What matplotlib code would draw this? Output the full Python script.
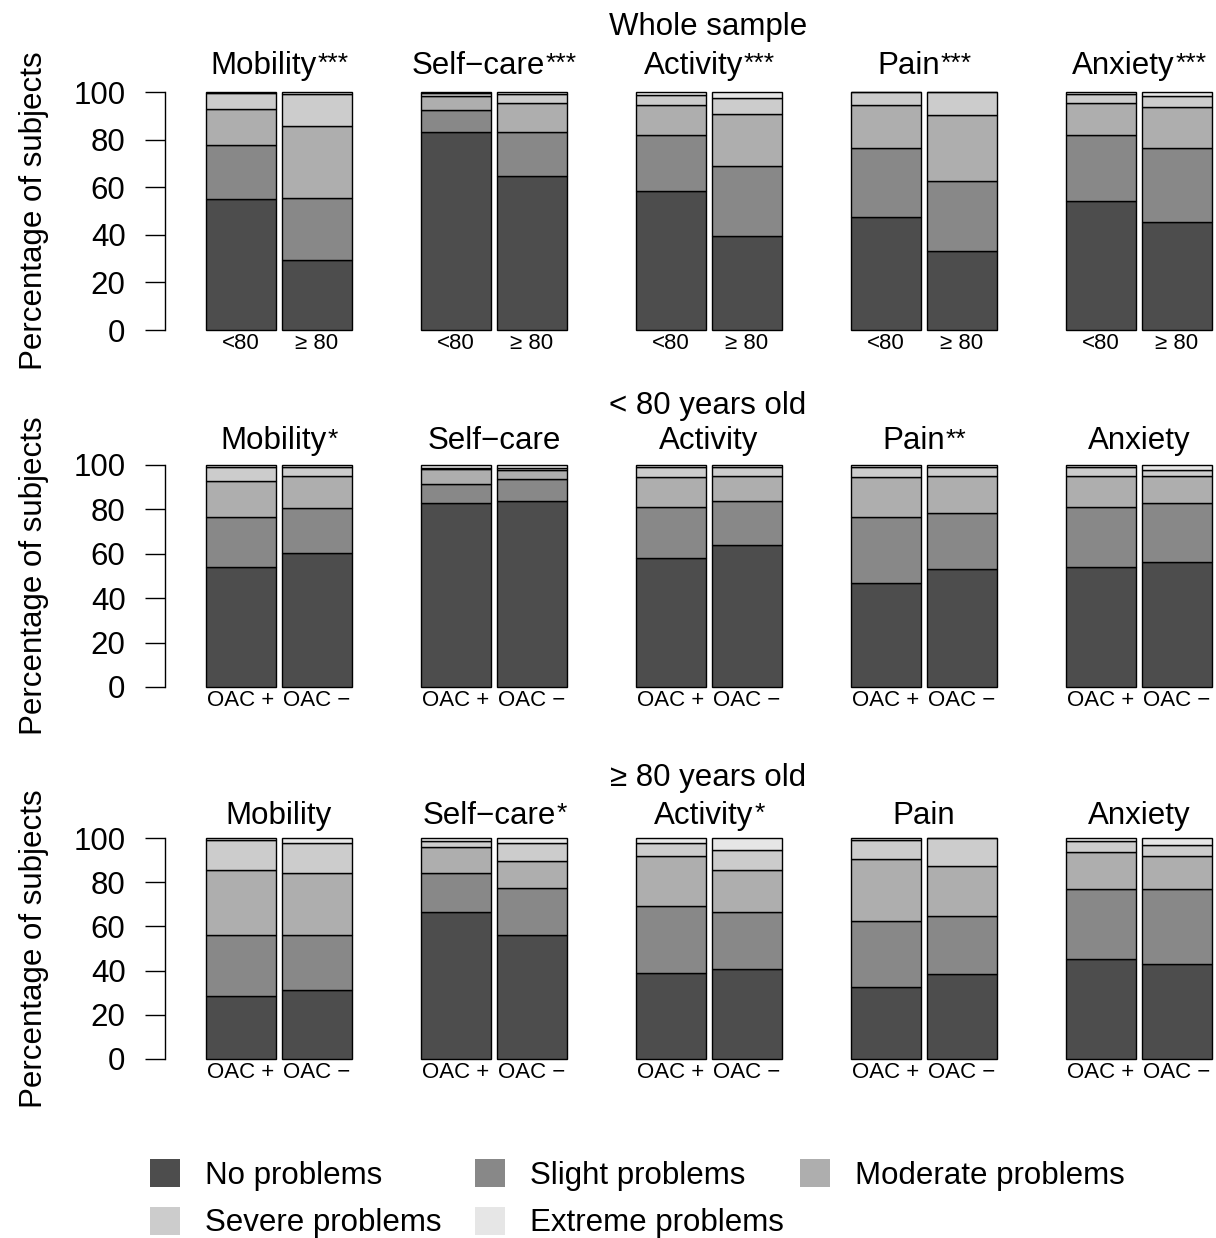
import numpy as np
import matplotlib.pyplot as plt
from matplotlib.patches import Patch

plt.rcParams['font.family'] = ['Liberation Sans', 'DejaVu Sans']

DIMS = ['Mobility', 'Self\u2212care', 'Activity', 'Pain', 'Anxiety']
LEVELS = ['No problems', 'Slight problems', 'Moderate problems',
          'Severe problems', 'Extreme problems']
COLORS = ['#4D4D4D', '#888888', '#AEAEAE', '#CCCCCC', '#E6E6E6']

# pairs per dimension: (<80, >=80)
whole_no       = [55.1, 29.5, 83.2, 64.5, 58.6, 39.3, 47.4, 33.1, 54.1, 45.3]
whole_slight   = [22.5, 26.0,  9.1, 18.7, 23.2, 29.7, 29.2, 29.3, 27.7, 31.1]
whole_moderate = [15.2, 30.1,  6.0, 12.2, 12.9, 21.9, 18.1, 27.8, 13.6, 17.3]
whole_severe   = [ 6.8, 13.4,  1.2,  3.6,  4.0,  6.6,  5.3,  9.8,  3.6,  4.5]
whole_extreme  = [ 0.4,  1.0,  0.5,  1.0,  1.3,  2.5,  0.0,  0.0,  1.0,  1.8]
whole_stars = ['***', '***', '***', '***', '***']

# pairs per dimension: (OAC +, OAC -), under 80
lt80_no       = [54.1, 60.5, 83.1, 83.9, 58.1, 63.9, 46.8, 53.3, 54.1, 56.3]
lt80_slight   = [22.6, 20.2,  8.5,  9.6, 23.1, 20.0, 29.9, 24.9, 27.1, 26.7]
lt80_moderate = [16.1, 14.5,  6.6,  4.1, 13.4, 11.3, 17.9, 17.0, 14.0, 12.2]
lt80_severe   = [ 6.3,  3.8,  0.4,  1.2,  4.5,  3.9,  4.5,  3.9,  3.9,  2.7]
lt80_extreme  = [ 0.9,  1.0,  1.4,  1.2,  0.9,  0.9,  0.9,  0.9,  0.9,  2.1]
lt80_stars = ['*', '', '', '**', '']

# pairs per dimension: (OAC +, OAC -), 80 and over
ge80_no       = [28.5, 31.0, 66.4, 55.9, 39.0, 40.5, 32.5, 38.3, 45.3, 43.1]
ge80_slight   = [27.4, 24.9, 17.6, 21.5, 30.4, 25.9, 29.8, 26.6, 31.7, 33.9]
ge80_moderate = [29.6, 28.1, 11.8, 12.1, 22.3, 19.1, 28.2, 22.3, 16.7, 14.7]
ge80_severe   = [13.6, 13.6,  3.0,  8.1,  5.9,  9.1,  8.6, 12.8,  4.8,  5.3]
ge80_extreme  = [ 0.9,  2.4,  1.2,  2.4,  2.4,  5.4,  0.9,  0.0,  1.5,  3.0]
ge80_stars = ['', '*', '*', '', '']

rows = [
    ('Whole sample', ['<80', '\u2265 80'], whole_stars,
     [whole_no, whole_slight, whole_moderate, whole_severe, whole_extreme]),
    ('< 80 years old', ['OAC +', 'OAC \u2212'], lt80_stars,
     [lt80_no, lt80_slight, lt80_moderate, lt80_severe, lt80_extreme]),
    ('\u2265 80 years old', ['OAC +', 'OAC \u2212'], ge80_stars,
     [ge80_no, ge80_slight, ge80_moderate, ge80_severe, ge80_extreme]),
]

W, H = 1216, 1238
fig = plt.figure(figsize=(W / 100, H / 100), dpi=100)

row_top = [92, 465, 838]
row_bot = [330, 687, 1059]
head_y = [27, 406, 778]
title_off = [19, 17, 16]
FS = 22.5
STAR_FS = 19

for r, (head, xlabels, stars, levels) in enumerate(rows):
    fig.text(708 / W, 1 - head_y[r] / H, head, ha='center', va='center', fontsize=FS)
    for c in range(5):
        left = 165 + 215 * c
        ax = fig.add_axes([left / W, 1 - row_bot[r] / H, 215 / W,
                           (row_bot[r] - row_top[r]) / H])
        bottom = np.zeros(2)
        for k, lvl in enumerate(levels):
            v = np.array(lvl[2 * c:2 * c + 2])
            ax.bar([1, 2], v, width=0.92, bottom=bottom, color=COLORS[k],
                   edgecolor='black', linewidth=1.0, clip_on=False)
            bottom += v
        ax.set_xlim(0, 215 / 76)
        ax.set_ylim(0, 100)
        for s in ['top', 'right', 'bottom']:
            ax.spines[s].set_visible(False)
        ax.set_xticks([1, 2])
        ax.set_xticklabels(xlabels, fontsize=16)
        ax.tick_params(axis='x', length=0, pad=2.5)
        if c == 0:
            ax.spines['left'].set_bounds(0, 100)
            ax.spines['left'].set_linewidth(1.0)
            ax.set_yticks([0, 20, 40, 60, 80, 100])
            ax.tick_params(axis='y', length=14.4, width=1.0, pad=14, labelsize=FS)
            ax.set_ylabel('Percentage of subjects', fontsize=FS)
            ax.yaxis.set_label_coords((49 - 165) / 215, 0.5)
        else:
            ax.spines['left'].set_visible(False)
            ax.set_yticks([])
        # title word, shifted left so word + stars is centred over the bars
        shift = -0.389 * STAR_FS * len(stars[c]) / 2
        t = ax.annotate(DIMS[c], xy=(1.5, 1), xycoords=('data', 'axes fraction'),
                        xytext=(shift, title_off[r]), textcoords='offset points',
                        ha='center', va='center', fontsize=FS)
        if stars[c]:
            ax.annotate(stars[c], xy=(1, 1), xycoords=t, xytext=(0.5, -1),
                        textcoords='offset points', ha='left', va='top',
                        fontsize=STAR_FS)

# legend in three fixed columns
handles = [Patch(facecolor=col, edgecolor='none') for col in COLORS]
col_x = [150, 475, 800]
for j in range(3):
    idx = list(range(j, 5, 3))
    fig.legend([handles[i] for i in idx], [LEVELS[i] for i in idx],
               loc='upper left', bbox_to_anchor=(col_x[j] / W, 1 - 1159 / H),
               frameon=False, fontsize=FS, borderpad=0, borderaxespad=0,
               handlelength=0.96, handleheight=1.0, handletextpad=0.8,
               labelspacing=0.51)

fig.savefig('out.png', dpi=100)
